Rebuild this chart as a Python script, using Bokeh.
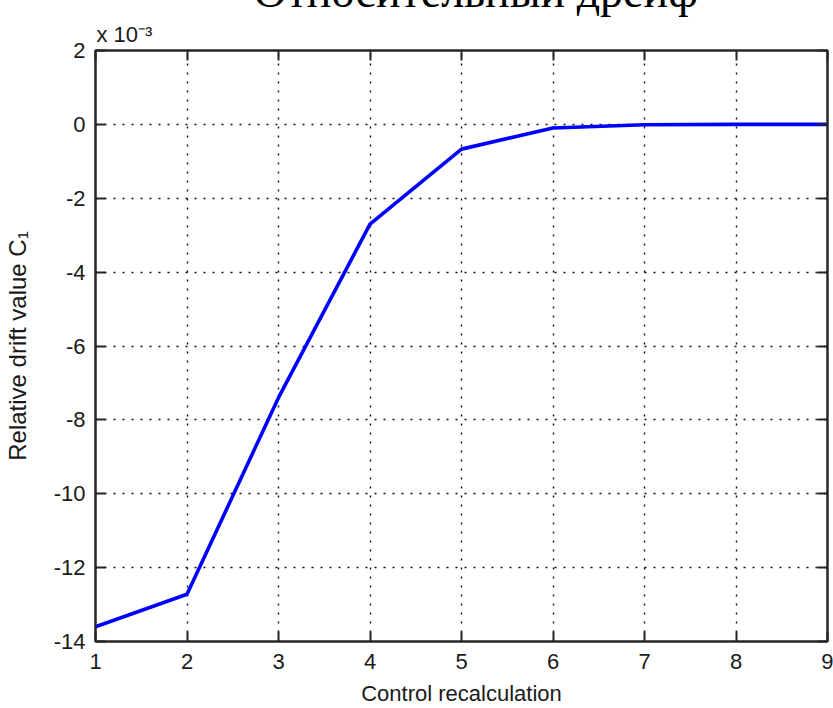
from bokeh.plotting import figure
from bokeh.models import LinearAxis, Range1d, FixedTicker, Title
from bokeh.embed import file_html
from bokeh.resources import INLINE

# Data (values in units of 1e-3)
recalc = [1, 2, 3, 4, 5, 6, 7, 8, 9]
drift = [-13.6, -12.72, -7.4, -2.7, -0.67, -0.1, -0.01, 0.0, 0.0]

x_ticks = [1, 2, 3, 4, 5, 6, 7, 8, 9]
y_ticks = [-14, -12, -10, -8, -6, -4, -2, 0, 2]

title_text = "Относительный дрейф"
scale_text = "x 10\u207b\u00b3"
x_label = "Control recalculation"
y_label = "Relative drift value C\u2081"

FONT = "Liberation Sans"
AX = "#262626"
TXT = "#1a1a1a"
SHIFT = 44  # canvas is taller and shifted up so that the title is cut at the top

p = figure(width=833, height=708 + SHIFT, output_backend="svg", toolbar_location=None,
           x_range=Range1d(1, 9), y_range=Range1d(-14, 2),
           min_border_left=94, min_border_right=6, min_border_top=50 + SHIFT,
           min_border_bottom=65)
p.styles = {"margin-top": f"-{SHIFT}px"}
p.background_fill_color = "white"
p.border_fill_color = "white"
p.outline_line_color = AX
p.outline_line_width = 2

p.line(recalc, drift, line_color="#0000ff", line_width=3.6)

p.xaxis[0].ticker = FixedTicker(ticks=x_ticks)
p.yaxis[0].ticker = FixedTicker(ticks=y_ticks)
p.xaxis[0].major_label_overrides = {t: str(t) for t in x_ticks}
p.yaxis[0].major_label_overrides = {t: str(t) for t in y_ticks}
for ax in (p.xaxis[0], p.yaxis[0]):
    ax.axis_line_color = AX
    ax.axis_line_width = 2
    ax.major_tick_line_color = AX
    ax.major_tick_line_width = 2
    ax.major_tick_in = 10
    ax.major_tick_out = 0
    ax.minor_tick_line_color = None
    ax.major_label_text_font = FONT
    ax.major_label_text_font_size = "22px"
    ax.major_label_text_color = TXT
    ax.axis_label_text_font = FONT
    ax.axis_label_text_font_style = "normal"
    ax.axis_label_text_color = TXT

p.xaxis[0].axis_label = x_label
p.xaxis[0].axis_label_text_font_size = "22px"
p.xaxis[0].major_label_standoff = 12
p.xaxis[0].axis_label_standoff = 9
p.yaxis[0].axis_label = y_label
p.yaxis[0].axis_label_text_font_size = "24px"
p.yaxis[0].major_label_standoff = 10
p.yaxis[0].axis_label_standoff = 20

top = LinearAxis(ticker=FixedTicker(ticks=x_ticks))
right = LinearAxis(ticker=FixedTicker(ticks=y_ticks))
for ax in (top, right):
    ax.axis_line_color = AX
    ax.axis_line_width = 2
    ax.major_tick_line_color = AX
    ax.major_tick_line_width = 2
    ax.major_tick_in = 10
    ax.major_tick_out = 0
    ax.minor_tick_line_color = None
    ax.major_label_text_font_size = "0px"
    ax.major_label_text_color = None
    ax.major_label_standoff = 0
p.add_layout(top, "above")
p.add_layout(right, "right")

for g in (p.xgrid[0], p.ygrid[0]):
    g.grid_line_color = "#111111"
    g.grid_line_dash = "2 7"
    g.grid_line_width = 1.4
p.xgrid[0].ticker = FixedTicker(ticks=x_ticks)
p.ygrid[0].ticker = FixedTicker(ticks=y_ticks)

# "x 10^-3" just above the frame, main title above it
p.add_layout(Title(text=scale_text, align="left", offset=1, standoff=7,
                   text_font=FONT, text_font_size="22px", text_font_style="normal",
                   text_line_height=0.4, text_color=TXT), "above")
p.add_layout(Title(text=title_text, align="left", offset=158, standoff=0,
                   text_font="Liberation Serif", text_font_size="46px",
                   text_font_style="normal", text_color="black"), "above")

open("out.html", "w").write(file_html(p, INLINE))
